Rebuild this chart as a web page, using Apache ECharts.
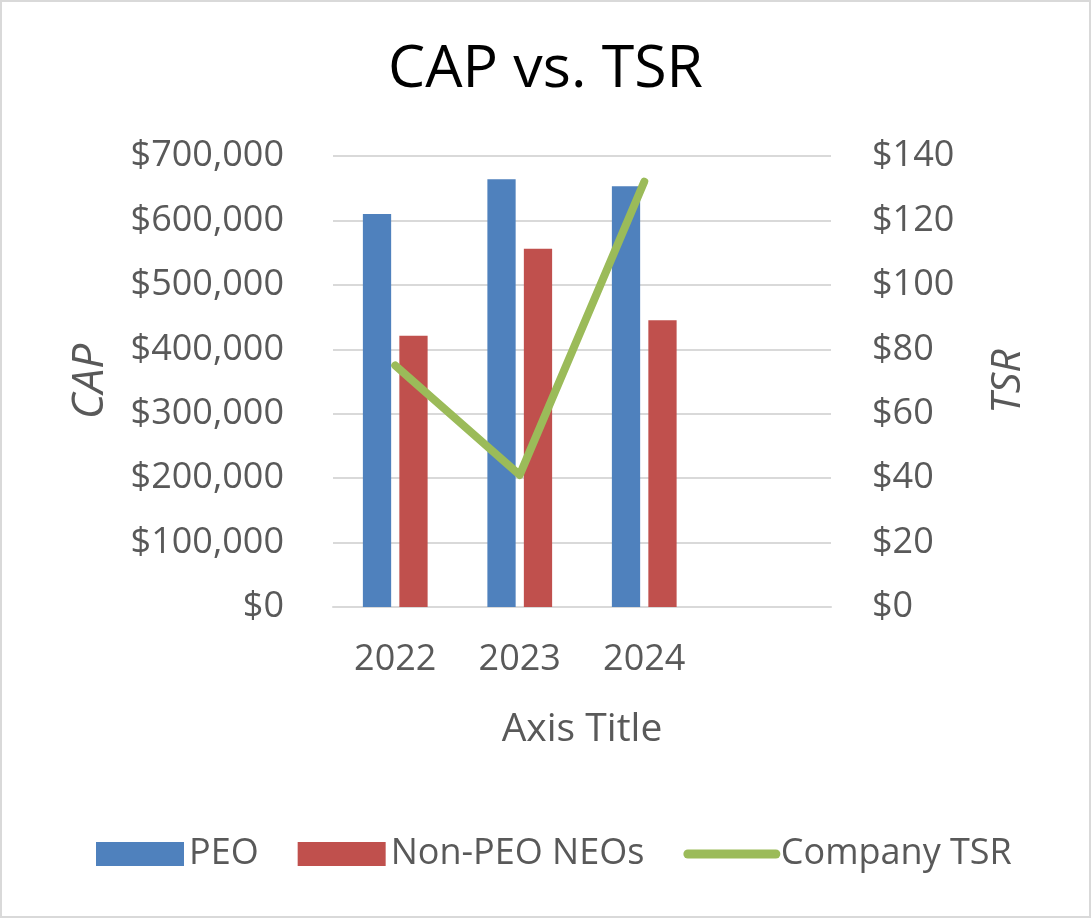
<!DOCTYPE html>
<html>
<head>
<meta charset="utf-8">
<script src="https://cdn.jsdelivr.net/npm/echarts@6/dist/echarts.min.js"></script>
<style>
html,body{margin:0;padding:0;background:#fff;}
#c{width:1087px;height:914px;border:2px solid #d9d9d9;}
</style>
</head>
<body>
<div id="c"></div>
<script>
const categories = ['2022', '2023', '2024', ''];
const peo = [610000, 664000, 653000, null];
const nonPeo = [421000, 556000, 445000, null];
const tsr = [75, 41, 132, null];
const capTicks = [0, 700000, 100000];
const tsrTicks = [0, 140, 20];

const font = '"Open Sans", Lato, sans-serif';
const gray = '#595959';
const chart = echarts.init(document.getElementById('c'));
const fmt = v => '$' + v.toLocaleString('en-US');
chart.setOption({
  animation: false,
  title: {
    text: 'CAP vs. TSR', left: 'center', top: 34,
    textStyle: {fontFamily: font, fontSize: 59, fontWeight: 'normal', color: '#000'}
  },
  legend: {
    top: 829, left: 89, itemGap: 39, itemWidth: 88, itemHeight: 24,
    textStyle: {fontFamily: font, fontSize: 36, color: gray},
    lineStyle: {width: 9, cap: 'round'},
    data: [
      {name: 'PEO', icon: 'rect'},
      {name: 'Non-PEO NEOs', icon: 'rect'},
      {name: 'Company TSR', itemStyle: {opacity: 0}}
    ]
  },
  grid: {left: 331, right: 258, top: 154, bottom: 309},
  xAxis: {
    type: 'category', data: categories,
    name: 'Axis Title', nameLocation: 'middle', nameGap: 103,
    nameTextStyle: {fontFamily: font, fontSize: 39, color: gray},
    axisLine: {lineStyle: {color: '#d9d9d9', width: 2}},
    axisTick: {show: false},
    axisLabel: {fontFamily: font, fontSize: 36, color: gray, margin: 35}
  },
  yAxis: [{
    type: 'value', min: capTicks[0], max: capTicks[1], interval: capTicks[2],
    name: 'CAP', nameLocation: 'middle', nameGap: 221, nameRotate: 90,
    nameTextStyle: {fontFamily: font, fontSize: 44, color: gray, fontStyle: 'italic'},
    axisLabel: {fontFamily: font, fontSize: 36, color: gray, margin: 49, formatter: fmt},
    splitLine: {lineStyle: {color: '#d9d9d9', width: 2}}
  }, {
    type: 'value', min: tsrTicks[0], max: tsrTicks[1], interval: tsrTicks[2],
    name: 'TSR', nameLocation: 'middle', nameGap: 157, nameRotate: 90,
    nameTextStyle: {fontFamily: font, fontSize: 41, color: gray, fontStyle: 'italic'},
    axisLabel: {fontFamily: font, fontSize: 36, color: gray, margin: 41, formatter: fmt},
    splitLine: {show: false}
  }],
  series: [{
    name: 'PEO', type: 'bar', data: peo, itemStyle: {color: '#4F81BD'},
    barGap: '29%', barCategoryGap: '48%'
  }, {
    name: 'Non-PEO NEOs', type: 'bar', data: nonPeo, itemStyle: {color: '#C0504D'}
  }, {
    name: 'Company TSR', type: 'line', yAxisIndex: 1, data: tsr,
    showSymbol: false, symbol: 'none',
    lineStyle: {color: '#9BBB59', width: 8, cap: 'round', join: 'round'},
    itemStyle: {color: '#9BBB59'}
  }]
});
</script>
</body>
</html>
